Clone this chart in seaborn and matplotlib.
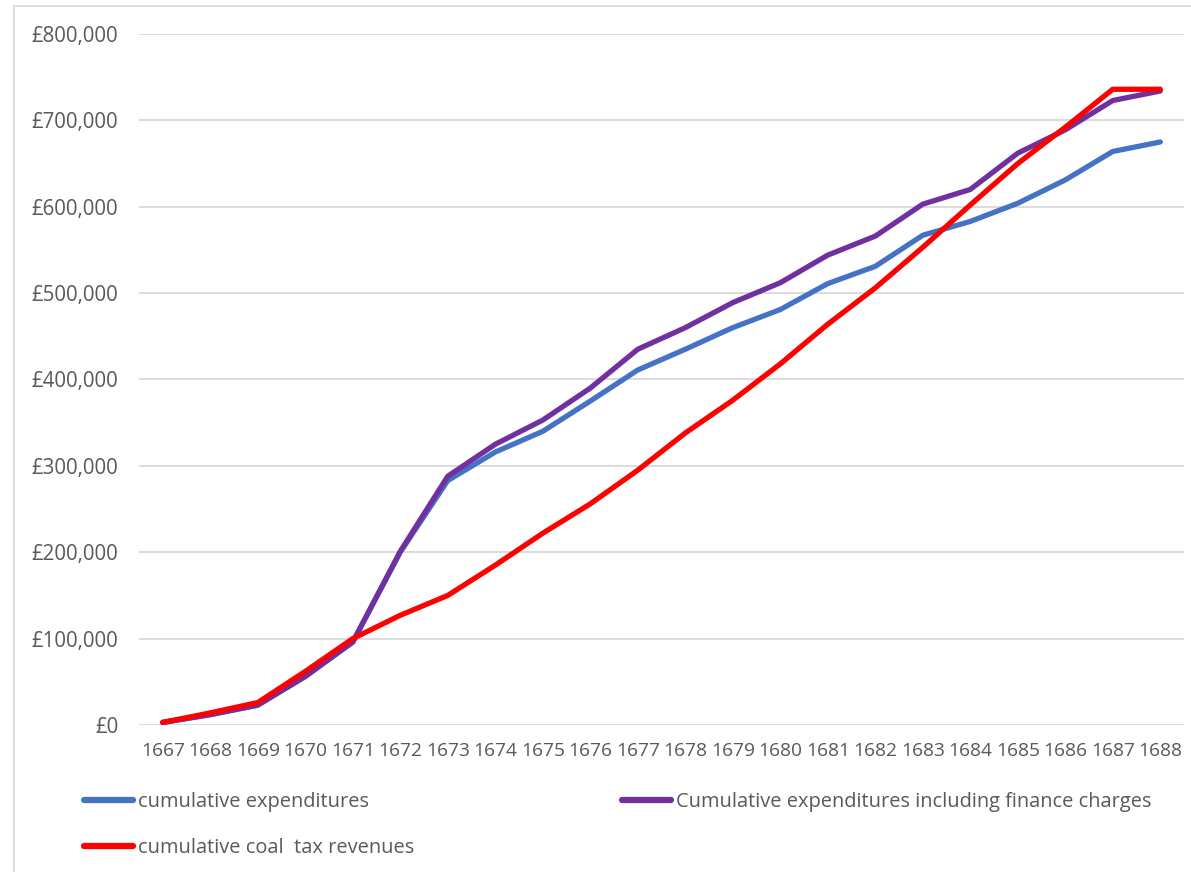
import matplotlib
matplotlib.use("Agg")
import matplotlib.pyplot as plt
import matplotlib.ticker as mticker
from matplotlib.lines import Line2D
from matplotlib.patches import Rectangle
import numpy as np
import pandas as pd
import seaborn as sns

years = [str(y) for y in range(1667, 1689)]

cumulative_expenditures = [
    3000, 12000, 23000, 57000, 96000, 200000, 283000, 316000, 340000, 375000,
    411000, 435000, 460000, 481000, 511000, 531000, 567000, 583000, 604000,
    631000, 664000, 675000,
]
cumulative_incl_finance = [
    3000, 12000, 23000, 56000, 96000, 201000, 288000, 325000, 353000, 390000,
    435000, 460000, 489000, 512000, 544000, 566000, 603000, 620000, 662000,
    689000, 723000, 734000,
]
cumulative_coal_tax = [
    3000, 14000, 26000, 62000, 100000, 127000, 150000, 185000, 222000, 256000,
    295000, 338000, 376000, 418000, 464000, 506000, 553000, 602000, 650000,
    692000, 736000, 736000,
]

series_names = [
    "cumulative expenditures",
    "Cumulative expenditures including finance charges",
    "cumulative coal  tax revenues",
]
series_colors = ["#4472C4", "#7030A0", "#FF0000"]

frames = []
for name, vals in zip(series_names,
                      [cumulative_expenditures, cumulative_incl_finance, cumulative_coal_tax]):
    frames.append(pd.DataFrame({"year": years, "value": vals, "series": name}))
df = pd.concat(frames, ignore_index=True)

sns.set_theme(style="white")
plt.rcParams["font.family"] = ["Open Sans", "DejaVu Sans"]
text_color = "#595959"
grid_color = "#D9D9D9"

fig = plt.figure(figsize=(11.91, 8.72), dpi=100)
ax = fig.add_axes([139 / 1191, 1 - 725 / 872, (1184 - 139) / 1191, (725 - 34) / 872])

sns.lineplot(
    data=df, x="year", y="value", hue="series",
    hue_order=series_names, palette=series_colors,
    linewidth=3.8, ax=ax, legend=False, sort=False,
    solid_capstyle="round", solid_joinstyle="round",
)

ax.set_xlim(-0.5, len(years) - 0.5)
ax.set_ylim(0, 800000)
ax.yaxis.set_major_locator(mticker.MultipleLocator(100000))
ax.yaxis.set_major_formatter(mticker.FuncFormatter(lambda v, p: f"£{v:,.0f}"))
ax.grid(axis="y", color=grid_color, linewidth=1.3)
ax.grid(axis="x", visible=False)
ax.set_axisbelow(True)
for s in ax.spines.values():
    s.set_visible(False)
ax.set_xlabel("")
ax.set_ylabel("")
ax.tick_params(axis="y", length=0, pad=15, labelsize=14.8, labelcolor=text_color)
ax.tick_params(axis="x", length=0, pad=12, labelsize=13.8, labelcolor=text_color)

# Outer chart-area frame
fig.patches.append(Rectangle((14 / 1191, -0.1), 1.2, (872 - 6) / 872 + 0.1,
                             transform=fig.transFigure, fill=False,
                             edgecolor="#D9D9D9", linewidth=1.2, zorder=0))

handles = [
    Line2D([], [], color=series_colors[0], linewidth=4.5, solid_capstyle="round"),
    Line2D([], [], color=series_colors[2], linewidth=4.5, solid_capstyle="round"),
    Line2D([], [], color=series_colors[1], linewidth=4.5, solid_capstyle="round"),
]
labels = [series_names[0], series_names[2], series_names[1]]
leg = fig.legend(
    handles, labels, ncol=2, loc="upper left",
    bbox_to_anchor=(66 / 1191, 1 - 774 / 872),
    frameon=False, fontsize=14.4, handlelength=2.45, handletextpad=0.25,
    columnspacing=10.4, labelspacing=1.3,
)
for t in leg.get_texts():
    t.set_color(text_color)

fig.savefig("out.png", dpi=100)
